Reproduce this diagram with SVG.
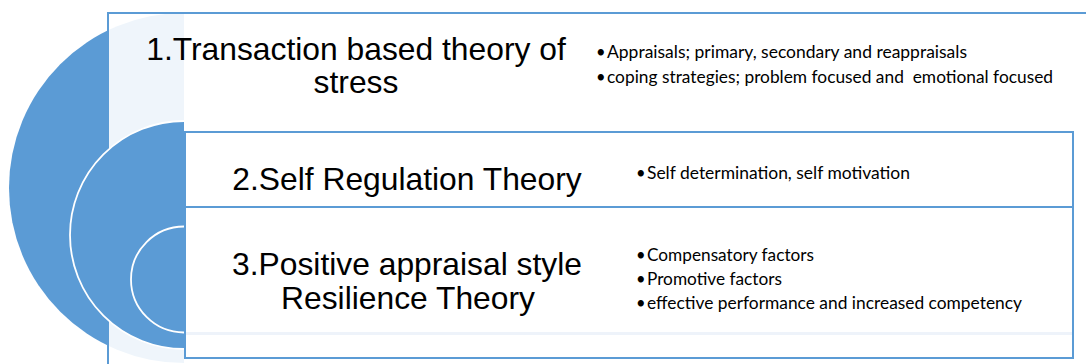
<svg xmlns="http://www.w3.org/2000/svg" width="1086" height="364" viewBox="0 0 1086 364">
  <style>
    .disc { fill: #5B9BD5; }
    .ring { fill: #5B9BD5; stroke: #FFFFFF; stroke-width: 1.8; }
    .panel { fill: #FFFFFF; fill-opacity: 0.9; stroke: #5B9BD5; stroke-width: 2; }
    .title { font-family: "Liberation Sans", Arial, sans-serif; font-size: 31.8px; fill: #000000; text-anchor: middle; }
    .item { font-family: Lato, "Open Sans", sans-serif; font-size: 16.5px; fill: #000000; }
  </style>

  <rect width="1086" height="364" fill="#FFFFFF"/>

  <!-- outer half disc, seen faintly through the first panel -->
  <path class="disc" d="M184,13 A175,175 0 0 0 184,363 Z"/>

  <g id="node-1">
    <rect class="panel" x="108" y="13" width="990" height="362"/>
    <text class="title" x="356" y="60">1.Transaction based theory of</text>
    <text class="title" x="356" y="93">stress</text>
    <text class="item" x="596" y="58">•</text>
    <text class="item" x="607" y="58" textLength="360" lengthAdjust="spacingAndGlyphs">Appraisals; primary, secondary and reappraisals</text>
    <text class="item" x="596" y="83">•</text>
    <text class="item" x="607" y="83" xml:space="preserve" textLength="446" lengthAdjust="spacingAndGlyphs">coping strategies; problem focused and  emotional focused</text>
  </g>

  <!-- middle and inner half discs -->
  <path class="ring" d="M184,121 A114,114 0 0 0 184,349"/>
  <path class="ring" d="M184,226.5 A53,53 0 0 0 184,332.5"/>

  <g id="node-2">
    <rect class="panel" x="185" y="132" width="888" height="75"/>
    <text class="title" x="407" y="190">2.Self Regulation Theory</text>
    <text class="item" x="636" y="179">•</text>
    <text class="item" x="647" y="179" textLength="263" lengthAdjust="spacingAndGlyphs">Self determination, self motivation</text>
  </g>

  <g id="node-3">
    <rect class="panel" x="185" y="207" width="888" height="151"/>
    <rect x="186" y="332" width="886" height="3" fill="#EEF3FA"/>
    <text class="title" x="407" y="275">3.Positive appraisal style</text>
    <text class="title" x="408" y="309">Resilience Theory</text>
    <text class="item" x="636" y="261">•</text>
    <text class="item" x="647" y="261" textLength="167" lengthAdjust="spacingAndGlyphs">Compensatory factors</text>
    <text class="item" x="636" y="285">•</text>
    <text class="item" x="647" y="285" textLength="135" lengthAdjust="spacingAndGlyphs">Promotive factors</text>
    <text class="item" x="636" y="309">•</text>
    <text class="item" x="647" y="309" textLength="375" lengthAdjust="spacingAndGlyphs">effective performance and increased competency</text>
  </g>

  <g id="connectors"/>
</svg>
